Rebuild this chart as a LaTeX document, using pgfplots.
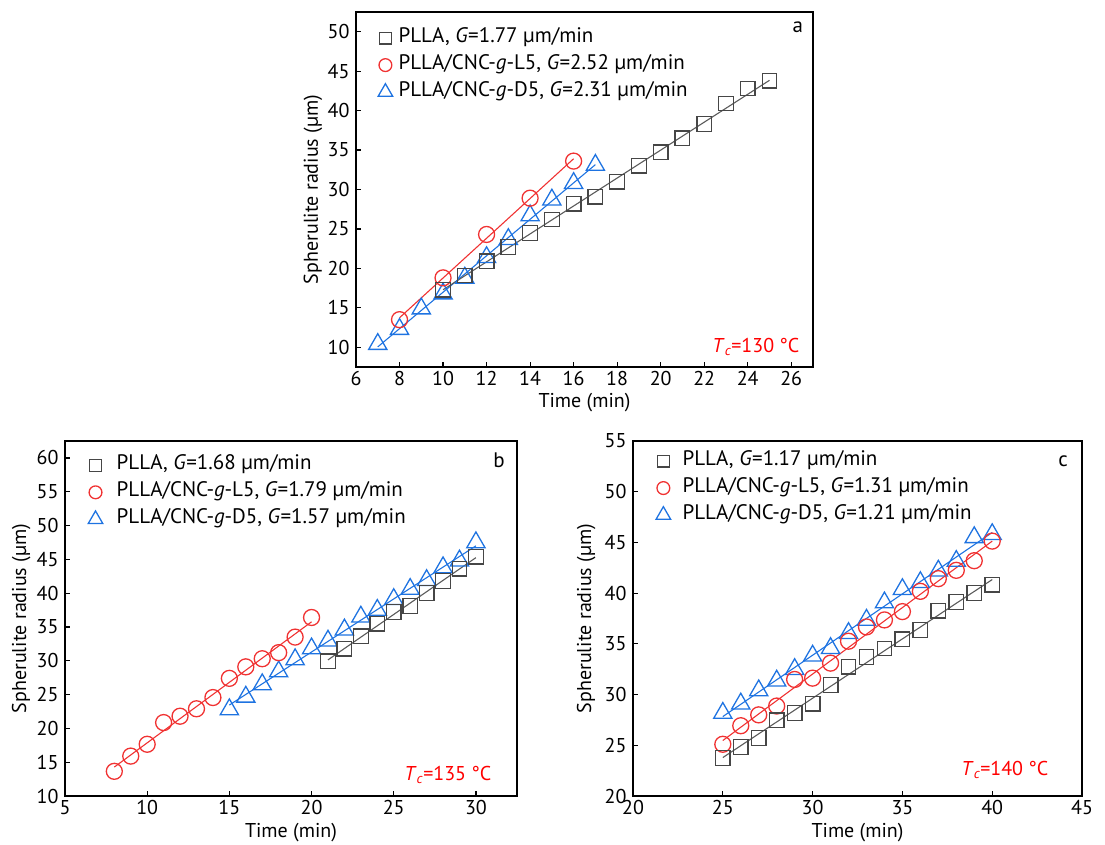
\documentclass[border=0pt]{standalone}
\usepackage{fontspec}
\setmainfont{PT Sans}
\usepackage{pgfplots}
\pgfplotsset{compat=1.18}
\definecolor{cgray}{RGB}{70,70,70}
\definecolor{cgrayl}{RGB}{90,90,90}
\definecolor{cred}{RGB}{240,50,50}
\definecolor{cblue}{RGB}{30,115,225}
\definecolor{tred}{RGB}{255,0,0}
\newcommand{\fs}{\fontsize{20}{23}\selectfont}
\newcommand{\fl}{\fontsize{21}{23}\selectfont}
\pgfplotsset{
 myaxis/.style={
  scale only axis,
  axis line style={line width=1.5pt},
  major tick style={line width=1.2pt, black},
  major tick length=5pt,
  tick align=inside,
  xtick pos=bottom, ytick pos=left,
  minor tick num=0,
  tick label style={font=\fs},
  every x tick label/.append style={yshift=-1pt},
  every y tick label/.append style={xshift=-3pt},
  label style={font=\fs},
  xlabel={Time (min)},
  ylabel={Spherulite radius (µm)},
  ylabel style={anchor=center},
  xlabel style={anchor=north},
  /pgf/number format/assume math mode=true,
  legend cell align=left,
  legend style={draw=none, fill=none, inner sep=0pt, anchor=north west, font=\fl,
    row sep=5pt, column sep=0pt, nodes={inner sep=2pt, text height=13.5pt, text depth=4.5pt}},
  legend image post style={every mark/.append style={scale=0.8}},
 },
 legimg/.style={legend image code/.code={\path (0pt,-5pt) (#1,5pt); \draw[mark repeat=2,mark phase=2,##1] plot coordinates {(0pt,0pt) (7pt,0pt) (14pt,0pt)};}},
 sq/.style={only marks, mark=square, mark size=7.3pt, mark options={draw=cgray, fill=white, line width=1.3pt}},
 ci/.style={only marks, mark=o, mark size=8pt, mark options={draw=cred, fill=white, line width=1.3pt}},
 tr/.style={only marks, mark=triangle, mark size=10.5pt, mark options={draw=cblue, fill=white, line width=1.3pt}},
 fitg/.style={no marks, cgrayl, line width=1.1pt, forget plot},
 fitr/.style={no marks, cred, line width=1.1pt, forget plot},
 fitb/.style={no marks, cblue, line width=1.1pt, forget plot},
}

\begin{document}
\begin{tikzpicture}
\path[use as bounding box] (0pt,0pt) rectangle (1105pt,844pt);

% ---------------- panel a
\begin{axis}[myaxis, at={(356pt,477pt)}, anchor=south west, width=457pt, height=355pt,
  xmin=6, xmax=27, ymin=7.5, ymax=52.5,
  xtick={6,8,...,26}, ytick={10,15,...,50},
  ylabel style={at={(axis description cs:-0.094,0.5)}},
  xlabel style={at={(axis description cs:0.5,-0.064)}},
  legend style={at={(0.048,0.958)}}, legimg=18pt]
\addplot[fitb] coordinates {(7,10.05) (17,33.15)};
\addplot[fitr] coordinates {(8,13.74) (16,33.9)};
\addplot[fitg] coordinates {(10,17.29) (25,43.84)};
\addplot[tr, forget plot] coordinates {(7,10.4)(8,12.3)(9,14.9)(10,16.8)(11,18.8)(12,21.4)(13,23.7)(14,26.7)(15,28.7)(16,30.8)(17,33.1)};
\addplot[ci, forget plot] coordinates {(8,13.5)(10,18.8)(12,24.3)(14,28.9)(16,33.6)};
\addplot[sq, forget plot] coordinates {(10,17.3)(11,19.1)(12,20.9)(13,22.7)(14,24.5)(15,26.2)(16,28.2)(17,29.1)(18,31.0)(19,33.0)(20,34.7)(21,36.5)(22,38.3)(23,40.9)(24,42.8)(25,43.8)};
\addlegendimage{sq}\addlegendentry{PLLA, \textit{G}=1.77 µm/min}
\addlegendimage{ci}\addlegendentry{PLLA/CNC-\textit{g}-L5, \textit{G}=2.52 µm/min}
\addlegendimage{tr}\addlegendentry{PLLA/CNC-\textit{g}-D5, \textit{G}=2.31 µm/min}
\node[font=\fontsize{21}{23}\selectfont] at (rel axis cs:0.967,0.958) {a};
\node[anchor=base east, text=tred, font=\fs] at (rel axis cs:0.978,0.042) {\textit{T}\textsubscript{\textit{c}}=130 °C};
\end{axis}

% ---------------- panel b
\begin{axis}[myaxis, at={(65pt,48pt)}, anchor=south west, width=452pt, height=355pt,
  xmin=5, xmax=32.5, ymin=10, ymax=62.5,
  xtick={5,10,...,30}, ytick={10,15,...,60},
  ylabel style={at={(axis description cs:-0.097,0.5)}},
  xlabel style={at={(axis description cs:0.5,-0.067)}},
  legend style={at={(0.051,0.963)}}, legimg=26pt]
\addplot[fitb] coordinates {(15,23.45) (30,46.99)};
\addplot[fitr] coordinates {(8,14.28) (20,35.76)};
\addplot[fitg] coordinates {(21,30.13) (30,45.25)};
\addplot[tr, forget plot] coordinates {(15,22.8)(16,24.66)(17,26.5)(18,28.4)(19,30.2)(20,31.8)(21,32.95)(22,34.6)(23,36.5)(24,37.5)(25,39.1)(26,40.6)(27,41.9)(28,43.8)(29,44.8)(30,47.5)};
\addplot[ci, forget plot] coordinates {(8,13.65)(9,15.9)(10,17.65)(11,20.86)(12,21.8)(13,22.9)(14,24.56)(15,27.4)(16,29.1)(17,30.3)(18,31.2)(19,33.5)(20,36.4)};
\addplot[sq, forget plot] coordinates {(21,29.94)(22,31.8)(23,33.6)(24,35.5)(25,37.2)(26,38.1)(27,40.0)(28,41.8)(29,43.6)(30,45.4)};
\addlegendimage{sq}\addlegendentry{PLLA, \textit{G}=1.68 µm/min}
\addlegendimage{ci}\addlegendentry{PLLA/CNC-\textit{g}-L5, \textit{G}=1.79 µm/min}
\addlegendimage{tr}\addlegendentry{PLLA/CNC-\textit{g}-D5, \textit{G}=1.57 µm/min}
\node[font=\fontsize{21}{23}\selectfont] at (rel axis cs:0.960,0.946) {b};
\node[anchor=base east, text=tred, font=\fs] at (rel axis cs:0.951,0.045) {\textit{T}\textsubscript{\textit{c}}=135 °C};
\end{axis}

% ---------------- panel c
\begin{axis}[myaxis, at={(633pt,48pt)}, anchor=south west, width=449pt, height=355pt,
  xmin=20, xmax=45, ymin=20, ymax=55,
  xtick={20,25,...,45}, ytick={20,25,...,55},
  ylabel style={at={(axis description cs:-0.104,0.5)}},
  xlabel style={at={(axis description cs:0.5,-0.067)}},
  legend style={at={(0.051,0.975)}}, legimg=24pt]
\addplot[fitb] coordinates {(25,27.83) (40,45.98)};
\addplot[fitr] coordinates {(25,25.47) (40,45.13)};
\addplot[fitg] coordinates {(25,23.79) (40,41.34)};
\addplot[tr, forget plot] coordinates {(25,28.18)(26,29.1)(27,30.4)(28,31.36)(29,32.5)(30,33.82)(31,34.57)(32,36.05)(33,37.36)(34,39.07)(35,40.38)(36,41.07)(37,42.2)(38,43.16)(39,45.5)(40,45.8)};
\addplot[ci, forget plot] coordinates {(25,25.1)(26,26.93)(27,28.0)(28,28.87)(29,31.49)(30,31.62)(31,33.1)(32,35.26)(33,36.67)(34,37.36)(35,38.18)(36,40.18)(37,41.43)(38,42.25)(39,43.2)(40,45.13)};
\addplot[sq, forget plot] coordinates {(25,23.75)(26,24.84)(27,25.72)(28,27.46)(29,28.18)(30,29.1)(31,30.93)(32,32.74)(33,33.69)(34,34.54)(35,35.46)(36,36.38)(37,38.28)(38,39.13)(39,40.02)(40,40.84)};
\addlegendimage{sq}\addlegendentry{PLLA, \textit{G}=1.17 µm/min}
\addlegendimage{ci}\addlegendentry{PLLA/CNC-\textit{g}-L5, \textit{G}=1.31 µm/min}
\addlegendimage{tr}\addlegendentry{PLLA/CNC-\textit{g}-D5, \textit{G}=1.21 µm/min}
\node[font=\fontsize{21}{23}\selectfont] at (rel axis cs:0.958,0.944) {c};
\node[anchor=base east, text=tred, font=\fs] at (rel axis cs:0.933,0.059) {\textit{T}\textsubscript{\textit{c}}=140 °C};
\end{axis}
\end{tikzpicture}
\end{document}
